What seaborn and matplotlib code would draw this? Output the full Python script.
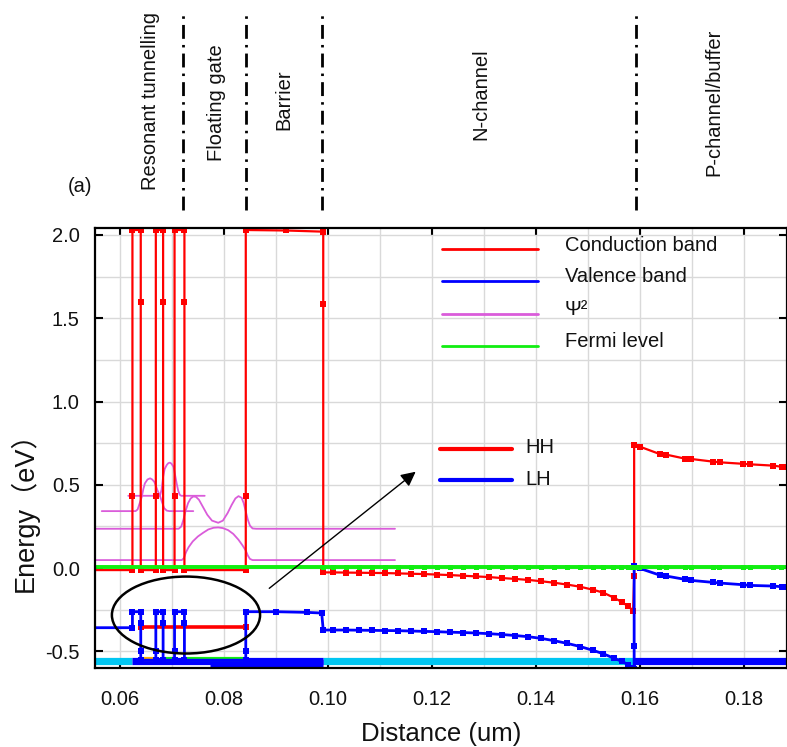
import matplotlib
matplotlib.use("Agg")
import matplotlib.pyplot as plt
import seaborn as sns
from matplotlib.patches import Ellipse
from matplotlib.lines import Line2D
from matplotlib.ticker import MultipleLocator, FixedLocator, FixedFormatter
from matplotlib.transforms import blended_transform_factory

# ---------------- data ----------------
# Conduction band: resonant tunnelling / floating gate / barrier section
cb_left_x = [0.0552, 0.0624, 0.0624, 0.0624, 0.0640, 0.0640, 0.0640,
             0.0669, 0.0669, 0.0669, 0.0683, 0.0683, 0.0683,
             0.0705, 0.0705, 0.0705, 0.0724, 0.0724, 0.0724,
             0.0842, 0.0842, 0.0842, 0.0920, 0.0991, 0.0991]
cb_left_e = [-0.012, -0.012, 0.43, 2.03, 2.03, 1.60, -0.012,
             -0.012, 0.43, 2.03, 2.03, 1.60, -0.012,
             -0.012, 0.43, 2.03, 2.03, 1.60, -0.012,
             -0.012, 0.43, 2.03, 2.027, 2.02, 1.585]
# N-channel mesh
n_x = [0.0991, 0.1010, 0.1035, 0.1060, 0.1085, 0.1110, 0.1135, 0.1160, 0.1185,
       0.1210, 0.1235, 0.1260, 0.1285, 0.1310, 0.1335, 0.1360, 0.1385, 0.1410,
       0.1435, 0.1460, 0.1485, 0.1510, 0.1530, 0.1550, 0.1565, 0.1578, 0.1587]
cb_n_e = [-0.026, -0.026, -0.027, -0.028, -0.029, -0.030, -0.032, -0.034, -0.036,
          -0.039, -0.042, -0.046, -0.050, -0.054, -0.060, -0.065, -0.071, -0.079,
          -0.088, -0.099, -0.112, -0.130, -0.148, -0.178, -0.203, -0.230, -0.256]
vb_n_e = [-0.372, -0.372, -0.372, -0.373, -0.374, -0.375, -0.376, -0.378, -0.380,
          -0.382, -0.385, -0.387, -0.390, -0.394, -0.399, -0.405, -0.412, -0.422,
          -0.436, -0.452, -0.471, -0.494, -0.515, -0.541, -0.560, -0.580, -0.602]
# P-channel / buffer mesh
p_x = [0.1589, 0.1600, 0.1638, 0.1651, 0.1687, 0.1699, 0.1741, 0.1754,
       0.1799, 0.1812, 0.1857, 0.1873, 0.1883]
cb_p_e = [0.739, 0.729, 0.685, 0.681, 0.657, 0.655, 0.639, 0.635,
          0.626, 0.623, 0.615, 0.608, 0.606]
vb_p_e = [0.014, -0.002, -0.042, -0.048, -0.068, -0.074, -0.086, -0.090,
          -0.100, -0.104, -0.108, -0.112, -0.113]
cb_jump_x = [0.1589]
cb_jump_e = [-0.05]

# Valence band: left section
vb_left_x = [0.0552, 0.0624, 0.0624, 0.0640, 0.0640, 0.0640, 0.0640,
             0.0669, 0.0669, 0.0669, 0.0683, 0.0683, 0.0683,
             0.0705, 0.0705, 0.0705, 0.0724, 0.0724, 0.0724,
             0.0842, 0.0842, 0.0842, 0.0900, 0.0960, 0.0988]
vb_left_e = [-0.358, -0.358, -0.262, -0.262, -0.33, -0.50, -0.553,
             -0.553, -0.50, -0.262, -0.262, -0.33, -0.553,
             -0.553, -0.50, -0.262, -0.262, -0.33, -0.553,
             -0.553, -0.50, -0.262, -0.262, -0.266, -0.270]
vb_jump_x = [0.1587, 0.1589, 0.1589]
vb_jump_e = [-0.602, -0.607, -0.47]

# HH level in the wells
hh_x = [0.0640, 0.0842]
hh_e = [-0.355, -0.355]

# Fermi level
fermi_x = [0.0552, 0.0991, 0.1587, 0.1589, 0.1883]
fermi_e = [0.004, 0.004, 0.004, 0.004, 0.004]

# Psi^2 (wavefunctions shifted to their energy levels)
psi1_x = [0.0565, 0.0630, 0.0634, 0.0638, 0.0642, 0.0645, 0.0648, 0.0653, 0.0658,
          0.0662, 0.0666, 0.0669, 0.0672, 0.0677, 0.0681, 0.0685, 0.0690, 0.0695, 0.0741]
psi1_e = [0.342, 0.342, 0.352, 0.390, 0.428, 0.475, 0.509, 0.532, 0.539,
          0.532, 0.518, 0.495, 0.468, 0.434, 0.395, 0.360, 0.345, 0.342, 0.342]
psi2_x = [0.0616, 0.0677, 0.0680, 0.0683, 0.0686, 0.0690, 0.0693, 0.0696, 0.0699,
          0.0703, 0.0706, 0.0709, 0.0712, 0.0715, 0.0718, 0.0763]
psi2_e = [0.434, 0.434, 0.470, 0.548, 0.595, 0.619, 0.630, 0.633, 0.627,
          0.608, 0.560, 0.509, 0.465, 0.440, 0.434, 0.434]
psi3_x = [0.0552, 0.0713, 0.0718, 0.0722, 0.0726, 0.0731, 0.0736, 0.0741, 0.0746,
          0.0752, 0.0760, 0.0768, 0.0777, 0.0789, 0.0798, 0.0807, 0.0815, 0.0822,
          0.0828, 0.0834, 0.0838, 0.0842, 0.0846, 0.0850, 0.0855, 0.0862, 0.1129]
psi3_e = [0.236, 0.236, 0.250, 0.290, 0.340, 0.390, 0.418, 0.430, 0.428,
          0.410, 0.365, 0.320, 0.285, 0.272, 0.285, 0.330, 0.380, 0.418,
          0.432, 0.422, 0.390, 0.340, 0.290, 0.255, 0.238, 0.236, 0.236]
psi4_x = [0.0552, 0.0719, 0.0723, 0.0727, 0.0732, 0.0740, 0.0750, 0.0760, 0.0770,
          0.0780, 0.0789, 0.0798, 0.0808, 0.0818, 0.0828, 0.0836, 0.0842, 0.0846,
          0.0850, 0.0855, 0.1129]
psi4_e = [0.048, 0.048, 0.060, 0.095, 0.125, 0.160, 0.190, 0.212, 0.232,
          0.242, 0.244, 0.240, 0.228, 0.205, 0.170, 0.135, 0.105, 0.075,
          0.055, 0.048, 0.048]

# thick subband bars at the bottom
cyan_bars = [([0.0552, 0.0624], [-0.556, -0.556]), ([0.0991, 0.1589], [-0.556, -0.556])]
blue_bars = [([0.0624, 0.0991], [-0.558, -0.558]), ([0.0773, 0.0991], [-0.572, -0.572]),
             ([0.1589, 0.1883], [-0.558, -0.558])]
orange_bars = [([0.0644, 0.0666], [-0.546, -0.546])]
green_bars = [([0.0686, 0.0703], [-0.546, -0.546]), ([0.0727, 0.0840], [-0.546, -0.546])]

# regions (top annotations)
region_bounds = [0.0722, 0.0843, 0.0989, 0.1592]
region_names = ["Resonant tunnelling", "Floating gate", "Barrier", "N-channel", "P-channel/buffer"]
region_text_x = [0.0658, 0.0785, 0.0915, 0.1294, 0.1742]
region_text_y = [0.865, 0.863, 0.867, 0.874, 0.863]

x_ticks = [0.06, 0.08, 0.10, 0.12, 0.14, 0.16, 0.18]
x_tick_labels = ["0.06", "0.08", "0.10", "0.12", "0.14", "0.16", "0.18"]
y_ticks = [-0.5, 0.0, 0.5, 1.0, 1.5, 2.0]
y_tick_labels = ["-0.5", "0.0", "0.5", "1.0", "1.5", "2.0"]

legend_labels = ["Conduction band", "Valence band", "Ψ²", "Fermi level"]
legend2_labels = ["HH", "LH"]

# ---------------- style ----------------
RED = "#FF0000"
BLUE = "#0000FF"
PSI = "#DA5CDA"
GREEN = "#11EE11"
CYAN = "#00C6F2"
ORANGE = "#FFB300"

sns.set_theme(style="ticks")
plt.rcParams['font.family'] = ['Liberation Sans', 'Noto Sans CJK SC', 'DejaVu Sans']
plt.rcParams['axes.unicode_minus'] = False

fig = plt.figure(figsize=(7.87, 7.47), dpi=100)
ax = fig.add_axes([95 / 787, 79 / 747, 692 / 787, 440 / 747])

# psi^2
for xs, es in [(psi1_x, psi1_e), (psi2_x, psi2_e), (psi3_x, psi3_e), (psi4_x, psi4_e)]:
    sns.lineplot(x=xs, y=es, sort=False, estimator=None, color=PSI, lw=1.3, ax=ax)

# thick bars
for xs, es in cyan_bars:
    sns.lineplot(x=xs, y=es, sort=False, estimator=None, color=CYAN, lw=5.2, ax=ax,
                 solid_capstyle='butt')
for xs, es in blue_bars:
    sns.lineplot(x=xs, y=es, sort=False, estimator=None, color=BLUE, lw=5.2, ax=ax,
                 solid_capstyle='butt')
for xs, es in orange_bars:
    sns.lineplot(x=xs, y=es, sort=False, estimator=None, color=ORANGE, lw=3, ax=ax,
                 solid_capstyle='butt')
for xs, es in green_bars:
    sns.lineplot(x=xs, y=es, sort=False, estimator=None, color=GREEN, lw=3, ax=ax,
                 solid_capstyle='butt')

# conduction band
cb_x = cb_left_x + n_x + cb_jump_x + p_x
cb_e = cb_left_e + cb_n_e + cb_jump_e + cb_p_e
sns.lineplot(x=cb_x, y=cb_e, sort=False, estimator=None, color=RED, lw=1.6,
             marker='s', markersize=3.7, markeredgewidth=0,
             markevery=list(range(1, len(cb_x))), ax=ax)

# HH level
sns.lineplot(x=hh_x, y=hh_e, sort=False, estimator=None, color=RED, lw=2.6,
             marker='s', markersize=3.7, markeredgewidth=0, ax=ax)

# valence band
vb_x = vb_left_x + n_x + vb_jump_x + p_x
vb_e = vb_left_e + vb_n_e + vb_jump_e + vb_p_e
sns.lineplot(x=vb_x, y=vb_e, sort=False, estimator=None, color=BLUE, lw=2.0,
             marker='s', markersize=3.7, markeredgewidth=0,
             markevery=list(range(1, len(vb_x))), ax=ax)

# Fermi level
sns.lineplot(x=fermi_x, y=fermi_e, sort=False, estimator=None, color=GREEN, lw=2.8, ax=ax)
mesh_x = n_x + p_x[:-1]
sns.scatterplot(x=mesh_x, y=[fermi_e[0]] * len(mesh_x), marker='s', s=13,
                color=GREEN, edgecolor='none', ax=ax, zorder=3)

# ellipse and arrow
ax.add_patch(Ellipse((0.0727, -0.282), 0.0285, 0.462, fill=False, ec='black', lw=1.8, zorder=5))
ax.annotate('', xy=(0.1173, 0.589), xytext=(0.0883, -0.132),
            arrowprops=dict(arrowstyle='-|>', color='black', lw=1.0, mutation_scale=22),
            zorder=5)

# axes
ax.set_xlim(0.0552, 0.1883)
ax.set_ylim(-0.600, 2.042)
ax.xaxis.set_major_locator(FixedLocator(x_ticks))
ax.xaxis.set_major_formatter(FixedFormatter(x_tick_labels))
ax.yaxis.set_major_locator(FixedLocator(y_ticks))
ax.yaxis.set_major_formatter(FixedFormatter(y_tick_labels))
ax.xaxis.set_minor_locator(MultipleLocator(0.01))
ax.yaxis.set_minor_locator(MultipleLocator(0.25))
ax.grid(which='both', color='#d9d9d9', lw=1.0)
ax.set_axisbelow(True)
ax.tick_params(which='major', direction='in', top=True, right=True, length=6, width=1.5,
               labelsize=14.5, color='black', labelcolor='#111111')
ax.tick_params(axis='x', pad=16)
ax.tick_params(axis='y', pad=11)
ax.tick_params(which='minor', length=0)
for sp in ax.spines.values():
    sp.set_color('black')
    sp.set_linewidth(1.6)

ax.set_xlabel("Distance (um)", fontsize=18.5, labelpad=9, color='#111111')
ax.set_ylabel("Energy（eV）", fontsize=19.5, color='#111111')
ax.yaxis.set_label_coords(-0.082, 0.37)

# legends (manual, axes coordinates)
leg_colors = [RED, BLUE, PSI, GREEN]
leg_line_y = [0.952, 0.8795, 0.805, 0.732]
leg_text_y = [0.961, 0.889, 0.815, 0.742]
for c, ly, ty, lab in zip(leg_colors, leg_line_y, leg_text_y, legend_labels):
    ax.add_line(Line2D([0.5014, 0.6402], [ly, ly], transform=ax.transAxes, color=c, lw=2.0))
    ax.text(0.6792, ty, lab, transform=ax.transAxes, fontsize=14.5, va='center', ha='left',
            color='#111111')
for c, ly, ty, lab in zip([RED, BLUE], [0.497, 0.4273], [0.502, 0.4273], legend2_labels):
    ax.add_line(Line2D([0.4986, 0.6026], [ly, ly], transform=ax.transAxes, color=c, lw=3.0))
    ax.text(0.6214, ty, lab, transform=ax.transAxes, fontsize=14.5, va='center', ha='left',
            color='#111111')

# region boundaries and labels above the axes
trans = blended_transform_factory(ax.transData, fig.transFigure)
for xb in region_bounds:
    ax.add_line(Line2D([xb, xb], [0.719, 0.980], transform=trans, color='black', lw=2.0,
                       linestyle=(0, (5, 2.2, 0.9, 2.2)), clip_on=False))
for name, tx, ty in zip(region_names, region_text_x, region_text_y):
    ax.text(tx, ty, name, transform=trans, rotation=90, ha='center', va='center',
            fontsize=14.5, color='#111111', clip_on=False)
fig.text(80 / 787, 1 - 186 / 747, "(a)", fontsize=14.5, ha='center', va='center', color='#111111')

fig.savefig("out.png", dpi=100)
